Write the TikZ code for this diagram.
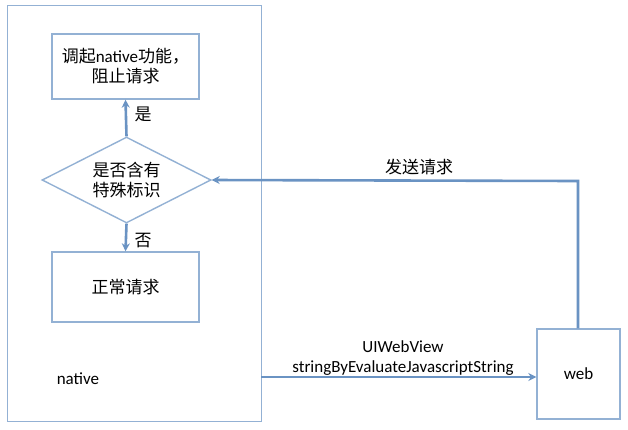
\documentclass[tikz,border=0pt]{standalone}
\usepackage{fontspec}
\setmainfont{Carlito}
\newfontfamily\cjk{Noto Sans CJK SC}
\usetikzlibrary{shapes.geometric,arrows.meta}
\definecolor{boxc}{HTML}{93B1D4}
\definecolor{arrc}{HTML}{6A93C3}
\begin{document}
\begin{tikzpicture}[x=1pt,y=-1pt,
  box/.style={draw=boxc,line width=1.4pt,fill=white},
  arr/.style={draw=arrc,line width=2.6pt,-{Stealth[length=8pt,width=8pt]}},
  lbl/.style={font=\fontsize{17}{21}\selectfont,text=black,inner sep=0pt},
  zh/.style={font=\cjk\fontsize{17}{20}\selectfont,text=black,inner sep=0pt,align=center}]
\useasboundingbox[fill=white] (0,0) rectangle (628,429);
\node[box,minimum width=254pt,minimum height=416pt,anchor=north west] (nat) at (7,5) {};
\node[box,minimum width=147pt,minimum height=65pt] (top) at (125.5,66.5) {};
\node[zh] at (top.center) {调起{\rmfamily\fontsize{17}{20}\selectfont native}功能，\\阻止请求};
\node[box,diamond,aspect=1.97,minimum width=169pt,minimum height=86pt,inner sep=0pt] (dia) at (126.5,180) {};
\node[zh] at (dia.center) {是否含有\\特殊标识};
\node[box,minimum width=147pt,minimum height=70pt] (bot) at (125.5,287) {};
\node[zh] at (bot.center) {正常请求};
\node[box,minimum width=83pt,minimum height=90pt] (web) at (578.5,374) {};
\node[lbl] at (web.center) {web};
\node[lbl] (natl) at (78,379) {native};
\draw[arr] (dia.north) -- (top.south);
\draw[arr] (dia.south) -- (bot.north);
\node[zh] at (143,114) {是};
\node[zh] at (143,241) {否};
\coordinate (c1) at (578,181);
\draw[arr] (web.north -| c1) -- (c1) -- (dia.east);
\node[zh] at (419,167) {发送请求};
\coordinate (s1) at (261,377);
\draw[arr] (s1) -- (s1 -| web.west);
\node[lbl] at (403,347) {UIWebView};
\node[lbl] at (403,368) {stringByEvaluateJavascriptString};
\end{tikzpicture}
\end{document}
